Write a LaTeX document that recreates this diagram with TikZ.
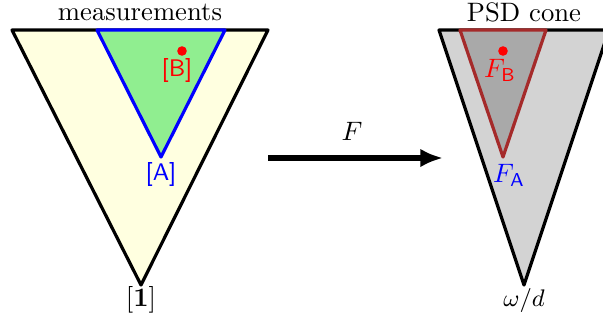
\documentclass[tikz,border=0pt]{standalone}
\usetikzlibrary{positioning,arrows.meta}
\definecolor{measfill}{HTML}{FFFFE0}
\definecolor{sepfill}{HTML}{90EE90}
\definecolor{psdfill}{HTML}{D3D3D3}
\definecolor{imgfill}{HTML}{A9A9A9}
\definecolor{imgline}{HTML}{A52A2A}
\begin{document}
\begin{tikzpicture}[x=0.375pt, y=-0.375pt, every node/.style={inner sep=1pt}, cone/.style={line width=1.2pt, line join=round}]
	\useasboundingbox (0,0) rectangle (603,322);
	% measurement cone
	\coordinate (ML) at (12,30);
	\coordinate (MR) at (268,30);
	\coordinate (M1) at (141,285);
	\filldraw[cone, fill=measfill] (ML) -- (MR) -- (M1) -- cycle;
	\coordinate (AL) at (97,30);
	\coordinate (AR) at (225,30);
	\coordinate (A) at (161,157);
	\filldraw[cone, draw=blue, fill=sepfill] (AL) -- (AR) -- (A) -- cycle;
	\fill[red] (182,51) circle (4.8);
	\node[red, font=\small\sffamily] (B) at (177,70) {[B]};
	\node[blue, font=\small\sffamily] (lblA) at (161,174) {[A]};
	\node (one) at (141,300) {$[\mathbf{1}]$};
	\node (meas) at (140,12) {measurements};
	% PSD cone
	\coordinate (PL) at (439,30);
	\coordinate (PR) at (609,30);
	\coordinate (P0) at (524,285);
	\filldraw[cone, fill=psdfill] (PL) -- (PR) -- (P0) -- cycle;
	\coordinate (FL) at (460,30);
	\coordinate (FR) at (546,30);
	\coordinate (FA) at (503,157);
	\filldraw[cone, draw=imgline, fill=imgfill] (FL) -- (FR) -- (FA) -- cycle;
	\fill[red] (503,51) circle (4.8);
	\node[red] (FB) at (500,70) {$F_{\mathsf{B}}$};
	\node[blue] (lblFA) at (509,175) {$F_{\mathsf{A}}$};
	\node[font=\small] (omega) at (524,300) {$\omega/d$};
	\node (psd) at (524,12) {PSD cone};
	% map
	\coordinate (s) at (268,158);
	\coordinate (t) at (443,158);
	\draw[-{Latex[length=8.5pt,width=7pt]}, line width=1.9pt] (s) -- (t);
	\node (F) at (352,131) {$F$};
\end{tikzpicture}
\end{document}
